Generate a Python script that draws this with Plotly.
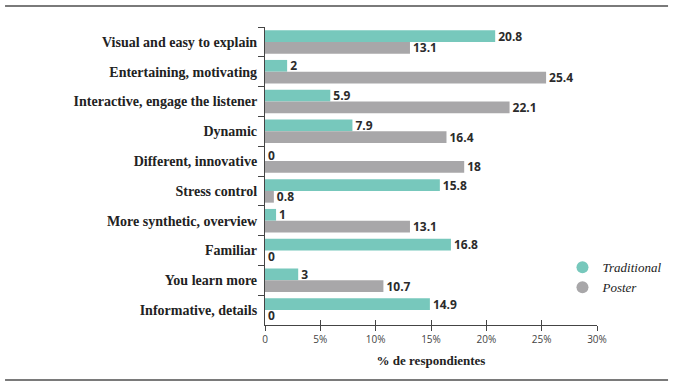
import plotly.graph_objects as go

categories = ["Visual and easy to explain", "Entertaining, motivating", "Interactive, engage the listener",
              "Dynamic", "Different, innovative", "Stress control", "More synthetic, overview",
              "Familiar", "You learn more", "Informative, details"]
traditional = [20.8, 2, 5.9, 7.9, 0, 15.8, 1, 16.8, 3, 14.9]
poster = [13.1, 25.4, 22.1, 16.4, 18, 0.8, 13.1, 0, 10.7, 0]
tick_vals = [0, 5, 10, 15, 20, 25, 30]
tick_text = ["0", "5%", "10%", "15%", "20%", "25%", "30%"]

TEAL = "#77C8BC"
GRAY = "#A8A7A9"
label_font = dict(family="Open Sans", size=12, color="#2b2b2b", weight="bold")

fig = go.Figure()
fig.add_trace(go.Bar(y=categories, x=traditional, orientation="h", name="Traditional",
                     marker=dict(color=TEAL, line=dict(width=0)), text=[str(v) for v in traditional],
                     textposition="outside", textfont=label_font, constraintext="none",
                     cliponaxis=False, showlegend=False))
fig.add_trace(go.Bar(y=categories, x=poster, orientation="h", name="Poster",
                     marker=dict(color=GRAY, line=dict(width=0)), text=[str(v) for v in poster],
                     textposition="outside", textfont=label_font, constraintext="none",
                     cliponaxis=False, showlegend=False))
# legend entries with circular markers
fig.add_trace(go.Scatter(x=[None], y=[None], mode="markers", name="Traditional",
                         marker=dict(color=TEAL, size=10, symbol="circle")))
fig.add_trace(go.Scatter(x=[None], y=[None], mode="markers", name="Poster",
                         marker=dict(color=GRAY, size=10, symbol="circle")))
# overlay axis for inward tick marks
fig.add_trace(go.Scatter(x=[None], y=[None], xaxis="x2", showlegend=False))

fig.update_layout(
    width=673, height=383,
    margin=dict(l=265, r=76, t=27, b=58, autoexpand=False),
    paper_bgcolor="white", plot_bgcolor="white",
    barmode="group", bargap=0.21, bargroupgap=0,
    xaxis=dict(range=[0, 30], tickvals=tick_vals, ticktext=tick_text, showgrid=False, zeroline=False,
               showline=True, linecolor="#444", linewidth=1.2, ticks="outside", ticklen=5,
               tickcolor="#444", tickwidth=1.2, automargin=False,
               tickfont=dict(family="Open Sans", size=10, color="#444"),
               title=dict(text="% de respondientes",
                          font=dict(family="Liberation Serif", size=13, color="#222", weight="bold"),
                          standoff=10)),
    xaxis2=dict(range=[0, 30], tickvals=tick_vals, overlaying="x", anchor="y", side="bottom",
                showticklabels=False, showgrid=False, zeroline=False, showline=False,
                ticks="inside", ticklen=5, tickcolor="#444", tickwidth=1.2),
    yaxis=dict(categoryorder="array", categoryarray=categories, autorange="reversed",
               showgrid=False, zeroline=False, showline=True, linecolor="#444", linewidth=1.2,
               ticks="outside", tickson="boundaries", ticklen=6, tickcolor="#444", tickwidth=1.2,
               automargin=False,
               tickfont=dict(family="Liberation Serif", size=14, color="#222", weight="bold"),
               ticklabelstandoff=4),
    legend=dict(x=0.896, y=0.16, xanchor="left", yanchor="middle", bgcolor="rgba(0,0,0,0)",
                font=dict(family="Liberation Serif", size=13, color="#222", style="italic"),
                itemsizing="constant", tracegroupgap=0, itemwidth=30),
    shapes=[
        dict(type="line", xref="paper", yref="paper", x0=-0.783, x1=1.214, y0=1.0705, y1=1.0705,
             line=dict(color="#7a7a7a", width=2)),
        dict(type="line", xref="paper", yref="paper", x0=-0.783, x1=1.214, y0=-0.1846, y1=-0.1846,
             line=dict(color="#7a7a7a", width=2)),
    ],
)

fig.write_html("out.html", config={"displayModeBar": False},
               post_script="document.body.style.margin='0';document.body.style.overflow='hidden';")
